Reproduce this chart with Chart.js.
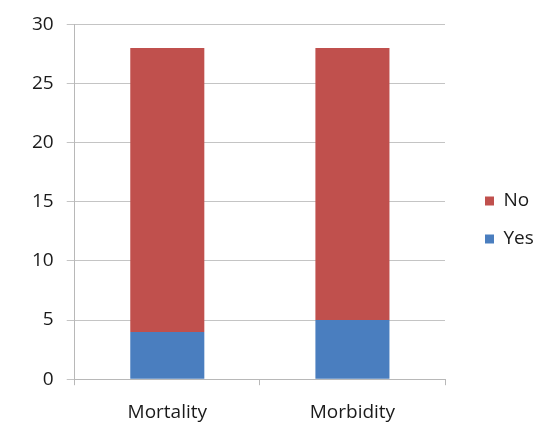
<!DOCTYPE html>
<html>
<head>
<meta charset="utf-8">
<script src="https://cdn.jsdelivr.net/npm/chart.js@4/dist/chart.umd.min.js"></script>
<style>
  html, body { margin: 0; padding: 0; background: #ffffff; overflow: hidden; }
  #wrap { width: 543px; height: 422px; }
</style>
</head>
<body>
<div id="wrap"><canvas id="c" width="543" height="422"></canvas></div>
<script>
const categories = ["Mortality", "Morbidity"];
const yesValues = [4, 5];
const noValues = [24, 23];
const yTicks = [0, 5, 10, 15, 20, 25, 30];

const fontFamily = "'Open Sans', Lato, 'Liberation Sans', sans-serif";

// Fixed-width legend column on the right, with the keys set in from the plot edge.
const legendPlacement = {
  id: "legendPlacement",
  beforeLayout(chart) {
    const lg = chart.legend;
    if (lg && !lg._fixedFit) {
      const orig = lg.fit.bind(lg);
      lg.fit = function () { orig(); this.width = 98; };
      lg._fixedFit = true;
    }
  },
  afterLayout(chart) {
    const lg = chart.legend;
    if (lg) { lg.left += 21; lg.right += 21; lg.top -= 9; lg.bottom -= 9; }
  }
};

new Chart(document.getElementById("c"), {
  type: "bar",
  data: {
    labels: categories,
    datasets: [
      { label: "Yes", data: yesValues, backgroundColor: "#4A7EBF", borderWidth: 0,
        categoryPercentage: 0.8, barPercentage: 0.5 },
      { label: "No", data: noValues, backgroundColor: "#C0504D", borderWidth: 0,
        categoryPercentage: 0.8, barPercentage: 0.5 }
    ]
  },
  plugins: [legendPlacement],
  options: {
    responsive: false,
    animation: false,
    devicePixelRatio: 1,
    layout: { padding: { top: 18, left: 19, right: 0, bottom: -18 } },
    plugins: {
      legend: {
        position: "right",
        reverse: true,
        align: "center",
        labels: {
          boxWidth: 9, boxHeight: 9, padding: 19,
          color: "#1a1a1a",
          font: { family: fontFamily, size: 19 }
        }
      },
      tooltip: { enabled: false }
    },
    scales: {
      x: {
        stacked: true,
        offset: true,
        grid: { display: true, drawOnChartArea: false, drawTicks: true, tickLength: 6, color: "#b8b8b8", offset: true },
        border: { display: true, color: "#b8b8b8" },
        ticks: { color: "#1a1a1a", font: { family: fontFamily, size: 19 }, padding: 16 }
      },
      y: {
        stacked: true,
        min: 0, max: 30,
        afterBuildTicks: (axis) => { axis.ticks = yTicks.map(v => ({ value: v })); },
        grid: { color: "#c4c4c4", tickLength: 8 },
        border: { display: true, color: "#b8b8b8" },
        ticks: { color: "#1a1a1a", font: { family: fontFamily, size: 19 }, padding: 13 }
      }
    }
  }
});
</script>
</body>
</html>
